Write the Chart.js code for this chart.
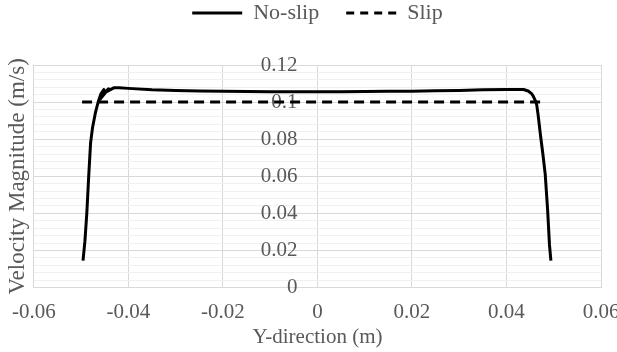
<!DOCTYPE html>
<html lang="en">
<head>
<meta charset="UTF-8">
<title>Velocity profile</title>
<script src="https://cdn.jsdelivr.net/npm/chart.js"></script>
<style>
  html, body { margin: 0; padding: 0; background: #fff; }
  .wrap { width: 617px; height: 352px; }
</style>
</head>
<body>
<div class="wrap"><canvas id="velocityChart"></canvas></div>
<script>
  // profile across the channel
  const noSlipX = [-0.0496, -0.0492, -0.0488, -0.0484, -0.0480, -0.0476, -0.0470, -0.0464, -0.0458, -0.0452,
    -0.0460, -0.0442, -0.0452, -0.0430, -0.0420, -0.0400, -0.0350, -0.0300, -0.0250, -0.0200, -0.0150,
    -0.0100, -0.0050, 0.0000, 0.0050, 0.0100, 0.0150, 0.0200, 0.0250, 0.0300, 0.0350, 0.0400, 0.0436,
    0.0446, 0.0453, 0.0457, 0.0461, 0.0464, 0.0467, 0.0472, 0.0477, 0.0482, 0.0487, 0.0491, 0.0494];
  const noSlipY = [0.0145, 0.0250, 0.0400, 0.0600, 0.0780, 0.0860, 0.0940, 0.1000, 0.1045, 0.1068,
    0.1015, 0.1072, 0.1048, 0.1078, 0.1078, 0.1074, 0.1066, 0.1062, 0.1060, 0.1058, 0.1057,
    0.1056, 0.1056, 0.1056, 0.1056, 0.1057, 0.1058, 0.1059, 0.1061, 0.1063, 0.1066, 0.1068, 0.1068,
    0.1060, 0.1046, 0.1030, 0.1008, 0.0985, 0.0930, 0.0820, 0.0720, 0.0610, 0.0420, 0.0230, 0.0145];

  const slipX = [-0.0498, -0.0460, -0.0400, -0.0300, -0.0200, -0.0100, 0.0000, 0.0100, 0.0200, 0.0300, 0.0400, 0.0460, 0.0480];
  const slipY = [0.1, 0.1, 0.1, 0.1, 0.1, 0.1, 0.1, 0.1, 0.1, 0.1, 0.1, 0.1, 0.1];

  const xTickLabels = ['-0.06', '-0.04', '-0.02', '0', '0.02', '0.04', '0.06'];
  const yTickLabels = ['0', '0.02', '0.04', '0.06', '0.08', '0.1', '0.12'];

  const textColor = '#595959';
  const fontFamily = '"Liberation Serif", "Times New Roman", serif';

  const toPoints = (xs, ys) => xs.map((x, i) => ({ x: x, y: ys[i] }));
  const isMajor = v => Math.abs(v / 0.02 - Math.round(v / 0.02)) < 1e-6;

  // push the plot area down a bit below the legend
  const legendSpacer = {
    id: 'legendSpacer',
    beforeLayout(chart) {
      const lg = chart.legend;
      if (lg && !lg._spaced) {
        const fit = lg.fit;
        lg.fit = function () { fit.call(this); this.height += 31; };
        lg._spaced = true;
      }
    }
  };

  Chart.defaults.font.family = fontFamily;
  Chart.defaults.font.size = 21;
  Chart.defaults.color = textColor;

  const ctx = document.getElementById('velocityChart').getContext('2d');
  const velocityChart = new Chart(ctx, {
    type: 'line',
    data: {
      datasets: [{
        label: 'No-slip',
        data: toPoints(noSlipX, noSlipY),
        borderColor: '#000',
        backgroundColor: '#000',
        borderWidth: 3,
        borderJoinStyle: 'round',
        pointRadius: 0,
        tension: 0
      }, {
        label: 'Slip',
        data: toPoints(slipX, slipY),
        borderColor: '#000',
        backgroundColor: '#000',
        borderWidth: 3,
        borderDash: [10, 6],
        pointRadius: 0,
        tension: 0
      }]
    },
    options: {
      responsive: true,
      maintainAspectRatio: false,
      animation: false,
      devicePixelRatio: 1,
      layout: { padding: { top: -25, left: 0, right: 0, bottom: 0 } },
      plugins: {
        legend: {
          position: 'top',
          fullSize: false,
          labels: {
            usePointStyle: true,
            pointStyle: 'line',
            pointStyleWidth: 50,
            padding: 27,
            color: textColor,
            font: { size: 22 },
            generateLabels(chart) {
              const items = Chart.defaults.plugins.legend.labels.generateLabels(chart);
              items.forEach(item => {
                const ds = chart.data.datasets[item.datasetIndex];
                item.lineDash = ds.borderDash ? [8, 6] : [];
                item.lineWidth = ds.borderWidth;
                item.strokeStyle = ds.borderColor;
                item.pointStyle = 'line';
              });
              return items;
            }
          }
        },
        tooltip: { enabled: false }
      },
      scales: {
        x: {
          type: 'linear',
          min: -0.06,
          max: 0.06,
          afterFit(scale) { scale.paddingRight = 16; },
          ticks: {
            stepSize: 0.02,
            padding: 12,
            callback: (v, i) => xTickLabels[i]
          },
          grid: { color: '#d9d9d9', drawTicks: false },
          border: { color: '#d9d9d9' },
          title: { display: true, text: 'Y-direction (m)', color: textColor, padding: { top: -12, bottom: 2 } }
        },
        y: {
          // labels sit just left of the x = 0 line
          position: { x: -0.0042 },
          min: 0,
          max: 0.12,
          ticks: {
            stepSize: 0.004,
            maxTicksLimit: 40,
            autoSkip: false,
            callback: (v, i) => (i % 5 === 0 ? yTickLabels[i / 5] : '')
          },
          grid: {
            drawTicks: false,
            color: c => (isMajor(c.tick.value) ? '#d9d9d9' : '#f0f0f0')
          },
          border: { display: false }
        },
        yTitle: {
          position: 'left',
          display: true,
          min: 0,
          max: 1,
          ticks: { display: false },
          grid: { display: false, drawTicks: false },
          border: { display: false },
          title: {
            display: true,
            text: 'Velocity Magnitude (m/s)',
            color: textColor,
            font: { size: 23 },
            padding: { top: 3, bottom: 2 }
          }
        }
      }
    },
    plugins: [legendSpacer]
  });
</script>
</body>
</html>
